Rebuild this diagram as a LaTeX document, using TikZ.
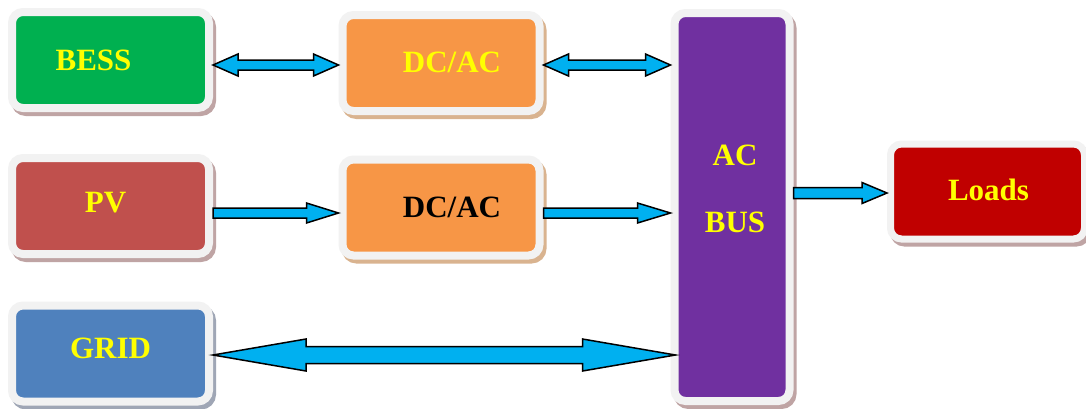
\documentclass[tikz,border=0pt]{standalone}
\usepackage{fontspec}
\setmainfont{Liberation Serif}
\usetikzlibrary{calc}
\definecolor{bgreen}{HTML}{00B050}
\definecolor{borange}{HTML}{F79646}
\definecolor{bpv}{HTML}{C0504D}
\definecolor{bgrid}{HTML}{4F81BD}
\definecolor{bpurple}{HTML}{7030A0}
\definecolor{bloads}{HTML}{C00000}
\definecolor{tyellow}{HTML}{FFFF00}
\definecolor{acyan}{HTML}{00B0F0}
\definecolor{bborder}{HTML}{F2F2F2}
\definecolor{shbrown}{HTML}{BFA4A4}
\definecolor{shtan}{HTML}{D9B38F}
\definecolor{shgray}{HTML}{9FA6B5}
\tikzset{
  box/.style={draw=bborder, line width=8pt, rounded corners=11pt, inner sep=0pt,
    minimum width=197pt, minimum height=96pt,
    preaction={draw=#1, fill=#1, transform canvas={shift={(3pt,-4pt)}}}},
  box/.default={shbrown},
  txt/.style={text=tyellow, font=\fontsize{31}{37}\selectfont\bfseries, inner sep=0pt},
  blockarrow/.style={draw=black, fill=acyan, line width=1.5pt, line join=miter, miter limit=20}
}
\newcommand\sglarrow[6]{%
  \draw[blockarrow] let \p1=(#1), \p2=(#2) in
   (\x1,#3+#4) -- (\x2-#6,#3+#4) -- (\x2-#6,#3+#5) -- (\x2,#3) -- (\x2-#6,#3-#5) -- (\x2-#6,#3-#4) -- (\x1,#3-#4) -- cycle;}
\newcommand\dblarrow[6]{%
  \draw[blockarrow] let \p1=(#1), \p2=(#2) in
   (\x1,#3) -- (\x1+#6,#3+#5) -- (\x1+#6,#3+#4) -- (\x2-#6,#3+#4) -- (\x2-#6,#3+#5) -- (\x2,#3) -- (\x2-#6,#3-#5) -- (\x2-#6,#3-#4) -- (\x1+#6,#3-#4) -- (\x1+#6,#3-#5) -- cycle;}
\begin{document}
\begin{tikzpicture}[x=1pt,y=1pt]
\useasboundingbox (0,0) rectangle (1086,-408);
\fill[white] (0,0) rectangle (1086,-408);
% boxes
\node[box, fill=bgreen, label={[txt, xshift=-17pt]center:BESS}] (bess) at (110.5,-60) {};
\node[box=shtan, fill=borange, label={[txt, xshift=11pt, yshift=1pt]center:DC/AC}] (dcac1) at (441,-63) {};
\node[box, fill=bpv, label={[txt, xshift=-5pt, yshift=3pt]center:PV}] (pv) at (110.5,-206) {};
\node[box=shtan, fill=borange, label={[txt, text=black, xshift=11pt]center:DC/AC}] (dcac2) at (441,-207.5) {};
\node[box=shgray, fill=bgrid, label={[txt, yshift=5pt]center:GRID}] (grid) at (110.5,-353.5) {};
\node[box, fill=bpurple, minimum width=115pt, minimum height=388pt,
  label={[txt, xshift=3pt, yshift=52pt]center:AC}, label={[txt, xshift=3pt, yshift=-15pt]center:BUS}] (bus) at (732,-207) {};
\node[box, fill=bloads, line width=7pt, minimum width=194pt, minimum height=95pt,
  label={[txt, xshift=1pt, yshift=1.5pt]center:Loads}] (loads) at (987.5,-191.5) {};
% arrows
\dblarrow{bess.east}{dcac1.west}{-65pt}{5pt}{11pt}{25pt}
\dblarrow{dcac1.east}{bus.west}{-65pt}{5pt}{11pt}{25pt}
\sglarrow{pv.east}{dcac2.west}{-213pt}{5pt}{10pt}{32pt}
\sglarrow{dcac2.east}{bus.west}{-213pt}{5pt}{10pt}{33pt}
\sglarrow{bus.east}{loads.west}{-193pt}{5.5pt}{10.5pt}{25pt}
\dblarrow{grid.east}{$(bus.west)+(5pt,0)$}{-355pt}{8.5pt}{16pt}{93pt}
\end{tikzpicture}
\end{document}
